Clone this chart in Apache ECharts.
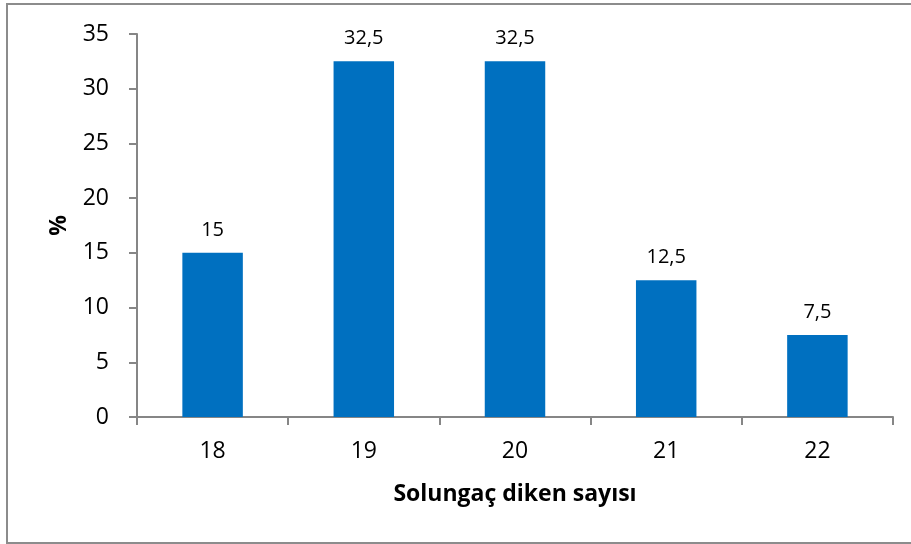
<!DOCTYPE html>
<html>
<head>
<meta charset="utf-8">
<script src="https://cdn.jsdelivr.net/npm/echarts@6/dist/echarts.min.js"></script>
<style>
  html, body { margin: 0; padding: 0; background: #fff; }
  #chart { width: 911px; height: 544px; }
</style>
</head>
<body>
<div id="chart"></div>
<script>
// Gill raker counts and their share (%)
const categories = ['18', '19', '20', '21', '22'];
const percentages = [15, 32.5, 32.5, 12.5, 7.5];
const yTicks = { min: 0, max: 35, interval: 5 };

const FONT = '"Open Sans", "Noto Sans", sans-serif';
const AXIS_GRAY = '#868686';

const chart = echarts.init(document.getElementById('chart'), null, { renderer: 'canvas' });

chart.setOption({
  backgroundColor: '#ffffff',
  animation: false,
  graphic: [
    {
      type: 'rect',
      shape: { x: 7, y: 4, width: 920, height: 539 },
      style: { fill: 'none', stroke: '#8c8c8c', lineWidth: 2 },
      silent: true
    }
  ],
  grid: { left: 137, right: 18, top: 34, bottom: 127 },
  xAxis: {
    type: 'category',
    data: categories,
    name: 'Solungaç diken sayısı',
    nameLocation: 'middle',
    nameGap: 66,
    nameTextStyle: { fontFamily: FONT, fontSize: 23, fontWeight: 'bold', color: '#000' },
    axisLine: { lineStyle: { color: AXIS_GRAY, width: 2 } },
    axisTick: { show: true, length: 8, lineStyle: { color: AXIS_GRAY, width: 2 } },
    axisLabel: { margin: 23, fontFamily: FONT, fontSize: 23, color: '#000' },
    splitLine: { show: false }
  },
  yAxis: {
    type: 'value',
    min: yTicks.min,
    max: yTicks.max,
    interval: yTicks.interval,
    name: '%',
    nameLocation: 'middle',
    nameGap: 66,
    nameRotate: 90,
    nameTextStyle: { fontFamily: FONT, fontSize: 23, fontWeight: 'bold', color: '#000' },
    axisLine: { show: true, lineStyle: { color: AXIS_GRAY, width: 2 } },
    axisTick: { show: true, length: 8, lineStyle: { color: AXIS_GRAY, width: 2 } },
    axisLabel: { margin: 28, fontFamily: FONT, fontSize: 23, color: '#000' },
    splitLine: { show: false }
  },
  series: [
    {
      type: 'bar',
      data: percentages,
      barWidth: '40%',
      itemStyle: { color: '#0070C0' },
      label: {
        show: true,
        position: 'top',
        distance: 13,
        fontFamily: FONT,
        fontSize: 20,
        color: '#000',
        formatter: p => String(p.value).replace('.', ',')
      }
    }
  ]
});
</script>
</body>
</html>
